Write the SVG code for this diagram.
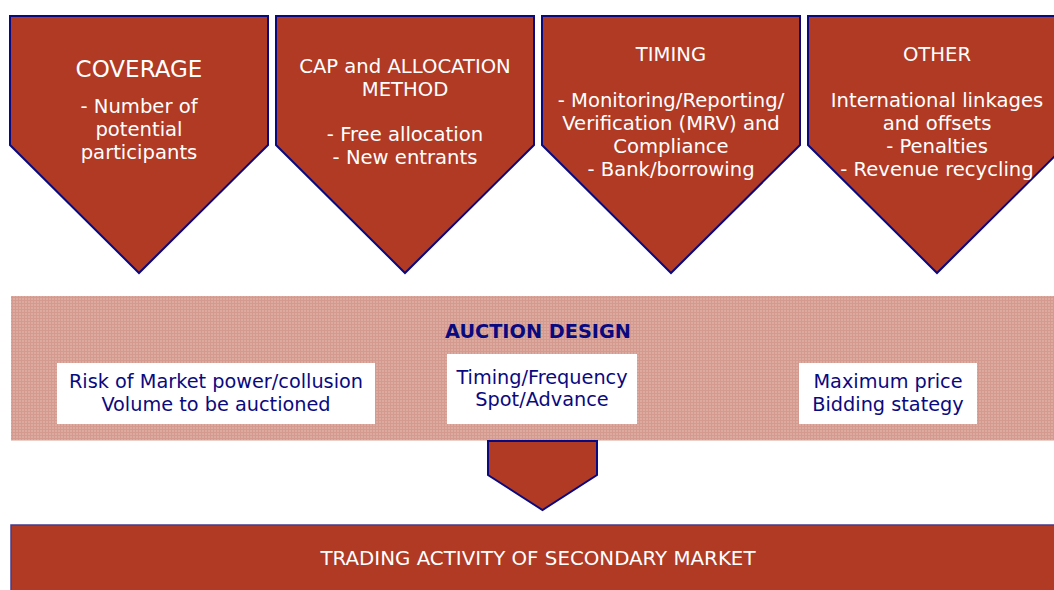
<svg xmlns="http://www.w3.org/2000/svg" width="1054" height="590" viewBox="0 0 1054 590">
<style>
.pent{fill:#B03A24;stroke:#0A0A80;stroke-width:2}
.wt{fill:#FFFFFF;font-family:"DejaVu Sans",Verdana,sans-serif;font-size:19.6px;text-anchor:middle}
.ttl{font-size:23px}
.box{fill:#FFFFFF}
.bt{fill:#0A0A80;font-family:"DejaVu Sans",Verdana,sans-serif;font-size:19.3px;text-anchor:middle}
</style>
<defs>
<pattern id="grid" width="3" height="3" patternUnits="userSpaceOnUse">
<rect width="3" height="3" fill="#DDAA9F"/>
<path d="M0 0.5H3M0.5 0V3" stroke="#D49A8F" stroke-width="1"/>
</pattern>
</defs>
<g id="coverage">
<polygon class="pent" points="10,16 268,16 268,145 139,273 10,145"/>
<text class="wt ttl" x="139" y="77">COVERAGE</text>
<text class="wt" x="139" y="113">- Number of</text>
<text class="wt" x="139" y="136">potential</text>
<text class="wt" x="139" y="159">participants</text>
</g>
<g id="cap">
<polygon class="pent" points="276,16 534,16 534,145 405,273 276,145"/>
<text class="wt" x="405" y="73">CAP and ALLOCATION</text>
<text class="wt" x="405" y="96">METHOD</text>
<text class="wt" x="405" y="141">- Free allocation</text>
<text class="wt" x="405" y="164">- New entrants</text>
</g>
<g id="timing">
<polygon class="pent" points="542,16 800,16 800,145 671,273 542,145"/>
<text class="wt" x="671" y="61">TIMING</text>
<text class="wt" x="671" y="107">- Monitoring/Reporting/</text>
<text class="wt" x="671" y="130">Verification (MRV) and</text>
<text class="wt" x="671" y="153">Compliance</text>
<text class="wt" x="671" y="176">- Bank/borrowing</text>
</g>
<g id="other">
<polygon class="pent" points="808,16 1066,16 1066,145 937,273 808,145"/>
<text class="wt" x="937" y="61">OTHER</text>
<text class="wt" x="937" y="107">International linkages</text>
<text class="wt" x="937" y="130">and offsets</text>
<text class="wt" x="937" y="153">- Penalties</text>
<text class="wt" x="937" y="176">- Revenue recycling</text>
</g>
<g id="auction">
<rect x="11" y="296" width="1050" height="144" fill="url(#grid)"/>
<line x1="11" y1="440.5" x2="1054" y2="440.5" stroke="#EBCFC9" stroke-width="1"/>
<text class="bt" x="538" y="338" font-weight="bold" font-size="19.8">AUCTION DESIGN</text>
</g>
<g id="risk">
<rect class="box" x="57" y="363" width="318" height="61"/>
<text class="bt" x="216" y="388">Risk of Market power/collusion</text>
<text class="bt" x="216" y="411">Volume to be auctioned</text>
</g>
<g id="timingfreq">
<rect class="box" x="447" y="354" width="190" height="70"/>
<text class="bt" x="542" y="384">Timing/Frequency</text>
<text class="bt" x="542" y="406">Spot/Advance</text>
</g>
<g id="maxprice">
<rect class="box" x="799" y="363" width="178" height="61"/>
<text class="bt" x="888" y="388">Maximum price</text>
<text class="bt" x="888" y="411">Bidding stategy</text>
</g>
<g id="connectors">
<polygon class="pent" points="488,441 597,441 597,475 542.5,510 488,475"/>
</g>
<g id="trading">
<rect x="11" y="525" width="1050" height="70" fill="#B03A24" stroke="#4A3A8A" stroke-width="1.5"/>
<text class="wt" x="538" y="565" font-size="19" textLength="435" lengthAdjust="spacingAndGlyphs">TRADING ACTIVITY OF SECONDARY MARKET</text>
</g>
</svg>
